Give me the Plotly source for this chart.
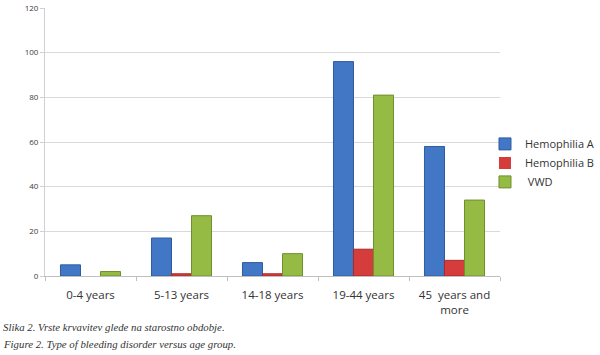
import plotly.graph_objects as go

categories = ["0-4 years", "5-13 years", "14-18 years", "19-44 years", "45  years and<br>more"]
hemophilia_a = [5, 17, 6, 96, 58]
hemophilia_b = [0, 1, 1, 12, 7]
vwd = [2, 27, 10, 81, 34]
y_ticks = [0, 20, 40, 60, 80, 100, 120]

series = [
    ("Hemophilia A", hemophilia_a, "#4277c6", "#2f5c9e"),
    ("Hemophilia B", hemophilia_b, "#d43d3b", "#a82a28"),
    (" VWD", vwd, "#95bb45", "#6f8f2e"),
]

fig = go.Figure()
for name, vals, col, edge in series:
    fig.add_trace(go.Bar(
        x=categories, y=vals, name=name,
        marker=dict(color=col, line=dict(color=edge, width=[1 if v else 0 for v in vals])),
    ))

fig.update_layout(
    width=600, height=355,
    margin=dict(l=45, r=100, t=8, b=79, autoexpand=False),
    paper_bgcolor="white", plot_bgcolor="white",
    barmode="group", bargap=0.34, bargroupgap=0,
    font=dict(family="Open Sans, Liberation Sans, sans-serif", color="#404040"),
    legend=dict(x=0.967, y=0.547, xanchor="left", yanchor="top",
                bgcolor="rgba(0,0,0,0)",
                font=dict(size=11, color="#333333"), tracegroupgap=0,
                itemwidth=30),
    showlegend=True,
)
fig.update_xaxes(
    showline=True, linecolor="#bfbfbf", linewidth=1,
    ticks="outside", tickson="boundaries", ticklen=4, tickcolor="#bfbfbf",
    ticklabelstandoff=8,
    tickfont=dict(size=11.5, color="#333333"), showgrid=False,
)
fig.update_yaxes(
    range=[0, 120], tickvals=y_ticks,
    showline=True, linecolor="#d0d0d0", linewidth=1,
    ticks="outside", ticklen=4, tickcolor="#d0d0d0",
    gridcolor="#d9d9d9", gridwidth=1,
    tickfont=dict(size=8, color="#404040"), zeroline=False,
)

fig.add_annotation(
    text="<i>Slika 2. Vrste krvavitev glede na starostno obdobje.</i>",
    xref="paper", yref="paper", x=-0.096, y=-0.19, xanchor="left", yanchor="middle",
    showarrow=False, font=dict(family="Liberation Serif, serif", size=10.8, color="#333333"),
)
fig.add_annotation(
    text="<i>Figure 2. Type of bleeding disorder versus age group.</i>",
    xref="paper", yref="paper", x=-0.096, y=-0.254, xanchor="left", yanchor="middle",
    showarrow=False, font=dict(family="Liberation Serif, serif", size=10.8, color="#333333"),
)

fig.write_html("out.html", config={"displayModeBar": False},
               post_script="document.body.style.margin='0';")
